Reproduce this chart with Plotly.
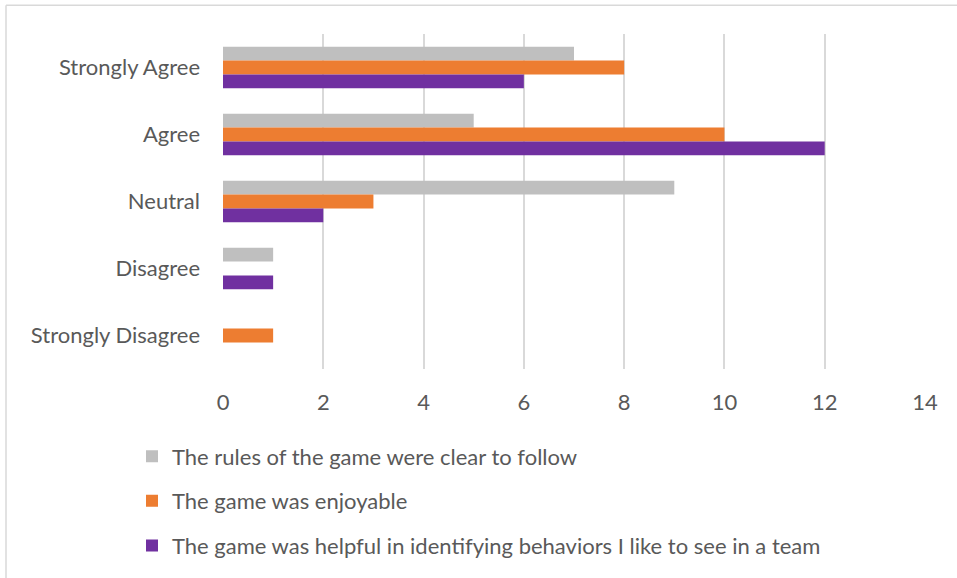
import plotly.graph_objects as go

# Survey responses per statement
categories = ["Strongly Agree", "Agree", "Neutral", "Disagree", "Strongly Disagree"]
series_names = [
    "The rules of the game were clear to follow",
    "The game was enjoyable",
    "The game was helpful in identifying behaviors I like to see in a team",
]
rules_clear = [7, 5, 9, 1, 0]
enjoyable = [8, 10, 3, 0, 1]
helpful = [6, 12, 2, 1, 0]
colors = ["#BFBFBF", "#ED7D31", "#7030A0"]
x_ticks = [0, 2, 4, 6, 8, 10, 12, 14]

W, H = 957, 578
L, R, T, B = 223, 32, 34, 206
FONT = "Lato"
FS = 22
TXT = "#595959"

fig = go.Figure()
for i, (name, vals) in enumerate(zip(series_names, [rules_clear, enjoyable, helpful])):
    fig.add_trace(go.Bar(
        y=categories, x=vals, name=name, orientation="h",
        marker=dict(color=colors[i], line=dict(width=0)),
        legendgroup=f"g{i}",
    ))

pw, ph = W - L - R, H - T - B
def px_x(p):
    return (p - L) / pw
def px_y(p):
    return (H - B - p) / ph

fig.update_layout(
    width=W, height=H,
    margin=dict(l=L, r=R, t=T, b=B),
    barmode="group", bargap=0.38, bargroupgap=0,
    plot_bgcolor="white", paper_bgcolor="white",
    font=dict(family=FONT, size=FS, color=TXT),
    xaxis=dict(range=[0, 14], tickvals=x_ticks, showgrid=True,
               gridcolor="#D9D9D9", gridwidth=1.5, zeroline=False,
               showline=False, ticks="", ticklabelstandoff=18,
               tickfont=dict(size=FS, color=TXT)),
    yaxis=dict(autorange="reversed", showgrid=False, zeroline=False,
               showline=False, ticks="", ticklabelstandoff=22,
               tickfont=dict(size=FS, color=TXT)),
    legend=dict(orientation="v", x=px_x(132), y=px_y(439),
                xanchor="left", yanchor="top", traceorder="grouped",
                tracegroupgap=13, font=dict(size=FS, color=TXT),
                bgcolor="rgba(0,0,0,0)"),
    showlegend=True,
    shapes=[
        dict(type="line", xref="paper", yref="paper",
             x0=px_x(6), x1=px_x(960), y0=px_y(5), y1=px_y(5),
             line=dict(color="#D9D9D9", width=1.5)),
        dict(type="line", xref="paper", yref="paper",
             x0=px_x(6), x1=px_x(6), y0=px_y(5), y1=px_y(600),
             line=dict(color="#D9D9D9", width=1.5)),
    ],
)

fig.write_html("out.html")
